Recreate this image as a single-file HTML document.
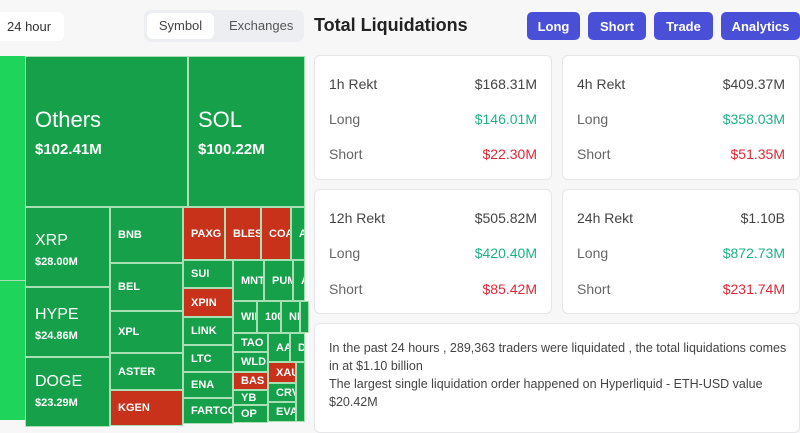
<!DOCTYPE html>
<html><head><meta charset="utf-8"><style>
*{margin:0;padding:0;box-sizing:border-box}
body{width:800px;height:420px;overflow:hidden;background:#f7f7f8;font-family:"Liberation Sans",sans-serif;position:relative;color:#333}
.a{position:absolute}
.c{position:absolute;background:#16a04a;border:1px solid #a8e0b4;color:#fff;font-size:11px;font-weight:bold;padding-left:7px;overflow:hidden;white-space:nowrap;display:flex;align-items:center}
.r{background:#c8321a}
.btn{position:absolute;top:12px;height:28px;background:#4a4fd8;color:#fff;border-radius:5px;font-weight:bold;font-size:13px;display:flex;align-items:center;justify-content:center}
.card{position:absolute;background:#fff;border:1px solid #e6e6e8;border-radius:6px}
.row{position:absolute;left:14px;right:14px;display:flex;justify-content:space-between;font-size:14px;color:#666}
.row b{font-weight:normal;color:#444}
.g{color:#1fb08a!important}.rd{color:#e0283a!important}
</style></head><body>
<div class="a" style="left:-10px;top:12px;width:74px;height:29px;background:#fff;border-radius:6px;font-size:13px;padding:7px 0 0 17px">24 hour</div>
<div class="a" style="left:144px;top:10px;width:160px;height:32px;background:#eceef2;border-radius:7px"></div>
<div class="a" style="left:147px;top:13px;width:67px;height:26px;background:#fff;border-radius:6px;font-size:13px;text-align:center;line-height:26px;color:#444">Symbol</div>
<div class="a" style="left:229px;top:13px;font-size:13px;line-height:26px;color:#555">Exchanges</div>

<div class="a" style="left:0;top:56px;width:25px;height:364px;background:#1ed45a"></div>
<div class="a" style="left:0;top:280px;width:25px;height:1px;background:#a8e0b4"></div>
<div class="c" style="left:25px;top:56px;width:163px;height:151px;display:block;padding:50px 0 0 9px"><div style="font-size:22px;font-weight:normal">Others</div><div style="font-size:15px;margin-top:8px">$102.41M</div></div>
<div class="c" style="left:188px;top:56px;width:117px;height:151px;display:block;padding:50px 0 0 9px"><div style="font-size:22px;font-weight:normal">SOL</div><div style="font-size:15px;margin-top:8px">$100.22M</div></div>
<div class="c" style="left:25px;top:207px;width:85px;height:80px;display:block;padding:24px 0 0 9px"><div style="font-size:16px;font-weight:normal">XRP</div><div style="font-size:11px;margin-top:6px">$28.00M</div></div>
<div class="c" style="left:25px;top:287px;width:85px;height:70px;display:block;padding:18px 0 0 9px"><div style="font-size:16px;font-weight:normal">HYPE</div><div style="font-size:11px;margin-top:6px">$24.86M</div></div>
<div class="c" style="left:25px;top:357px;width:85px;height:70px;display:block;padding:15px 0 0 9px"><div style="font-size:16px;font-weight:normal">DOGE</div><div style="font-size:11px;margin-top:6px">$23.29M</div></div>
<div class="c" style="left:110px;top:207px;width:73px;height:56px">BNB</div>
<div class="c" style="left:110px;top:263px;width:73px;height:48px">BEL</div>
<div class="c" style="left:110px;top:311px;width:73px;height:42px">XPL</div>
<div class="c" style="left:110px;top:353px;width:73px;height:37px">ASTER</div>
<div class="c r" style="left:110px;top:390px;width:73px;height:36px">KGEN</div>
<div class="c r" style="left:183px;top:207px;width:42px;height:53px">PAXG</div>
<div class="c r" style="left:225px;top:207px;width:36px;height:53px">BLESS</div>
<div class="c r" style="left:261px;top:207px;width:30px;height:53px">COA</div>
<div class="c" style="left:291px;top:207px;width:14px;height:53px">A</div>
<div class="c" style="left:183px;top:260px;width:50px;height:28px">SUI</div>
<div class="c r" style="left:183px;top:288px;width:50px;height:29px">XPIN</div>
<div class="c" style="left:183px;top:317px;width:50px;height:28px">LINK</div>
<div class="c" style="left:183px;top:345px;width:50px;height:27px">LTC</div>
<div class="c" style="left:183px;top:372px;width:50px;height:26px">ENA</div>
<div class="c" style="left:183px;top:398px;width:50px;height:26px">FARTCOIN</div>
<div class="c" style="left:233px;top:260px;width:31px;height:41px">MNT</div>
<div class="c" style="left:264px;top:260px;width:29px;height:41px">PUMP</div>
<div class="c" style="left:293px;top:260px;width:12px;height:41px">A</div>
<div class="c" style="left:233px;top:301px;width:24px;height:32px">WIF</div>
<div class="c" style="left:257px;top:301px;width:24px;height:32px">100</div>
<div class="c" style="left:281px;top:301px;width:19px;height:32px">NE</div>
<div class="c" style="left:300px;top:301px;width:5px;height:32px"></div>
<div class="c" style="left:233px;top:333px;width:35px;height:19px">TAO</div>
<div class="c" style="left:233px;top:352px;width:35px;height:20px">WLD</div>
<div class="c r" style="left:233px;top:372px;width:35px;height:18px">BAS</div>
<div class="c" style="left:233px;top:390px;width:35px;height:15px">YB</div>
<div class="c" style="left:233px;top:405px;width:35px;height:18px">OP</div>
<div class="c" style="left:268px;top:333px;width:22px;height:29px">AA</div>
<div class="c" style="left:290px;top:333px;width:15px;height:29px">D</div>
<div class="c r" style="left:268px;top:362px;width:28px;height:21px">XAU</div>
<div class="c" style="left:268px;top:383px;width:28px;height:19px">CRV</div>
<div class="c" style="left:268px;top:402px;width:28px;height:20px">EVA</div>
<div class="c" style="left:296px;top:362px;width:9px;height:60px"></div>

<div class="a" style="left:314px;top:15px;font-size:18px;font-weight:bold;color:#222">Total Liquidations</div>
<div class="btn" style="left:527px;width:53px">Long</div>
<div class="btn" style="left:588px;width:58px">Short</div>
<div class="btn" style="left:654px;width:59px">Trade</div>
<div class="btn" style="left:721px;width:79px">Analytics</div>

<div class="card" style="left:314px;top:55px;width:238px;height:125px">
<div class="row" style="top:20px"><b>1h Rekt</b><b>$168.31M</b></div>
<div class="row" style="top:55px"><span>Long</span><b class="g">$146.01M</b></div>
<div class="row" style="top:90px"><span>Short</span><b class="rd">$22.30M</b></div></div>
<div class="card" style="left:562px;top:55px;width:238px;height:125px">
<div class="row" style="top:20px"><b>4h Rekt</b><b>$409.37M</b></div>
<div class="row" style="top:55px"><span>Long</span><b class="g">$358.03M</b></div>
<div class="row" style="top:90px"><span>Short</span><b class="rd">$51.35M</b></div></div>
<div class="card" style="left:314px;top:189px;width:238px;height:125px">
<div class="row" style="top:20px"><b>12h Rekt</b><b>$505.82M</b></div>
<div class="row" style="top:55px"><span>Long</span><b class="g">$420.40M</b></div>
<div class="row" style="top:91px"><span>Short</span><b class="rd">$85.42M</b></div></div>
<div class="card" style="left:562px;top:189px;width:238px;height:125px">
<div class="row" style="top:20px"><b>24h Rekt</b><b>$1.10B</b></div>
<div class="row" style="top:55px"><span>Long</span><b class="g">$872.73M</b></div>
<div class="row" style="top:91px"><span>Short</span><b class="rd">$231.74M</b></div></div>
<div class="card" style="left:314px;top:323px;width:486px;height:110px;padding:15px 12px 0 14px;font-size:12.5px;line-height:18px;color:#444">In the past 24 hours , 289,363 traders were liquidated , the total liquidations comes in at $1.10 billion<br>The largest single liquidation order happened on Hyperliquid - ETH-USD value $20.42M</div>
</body></html>
